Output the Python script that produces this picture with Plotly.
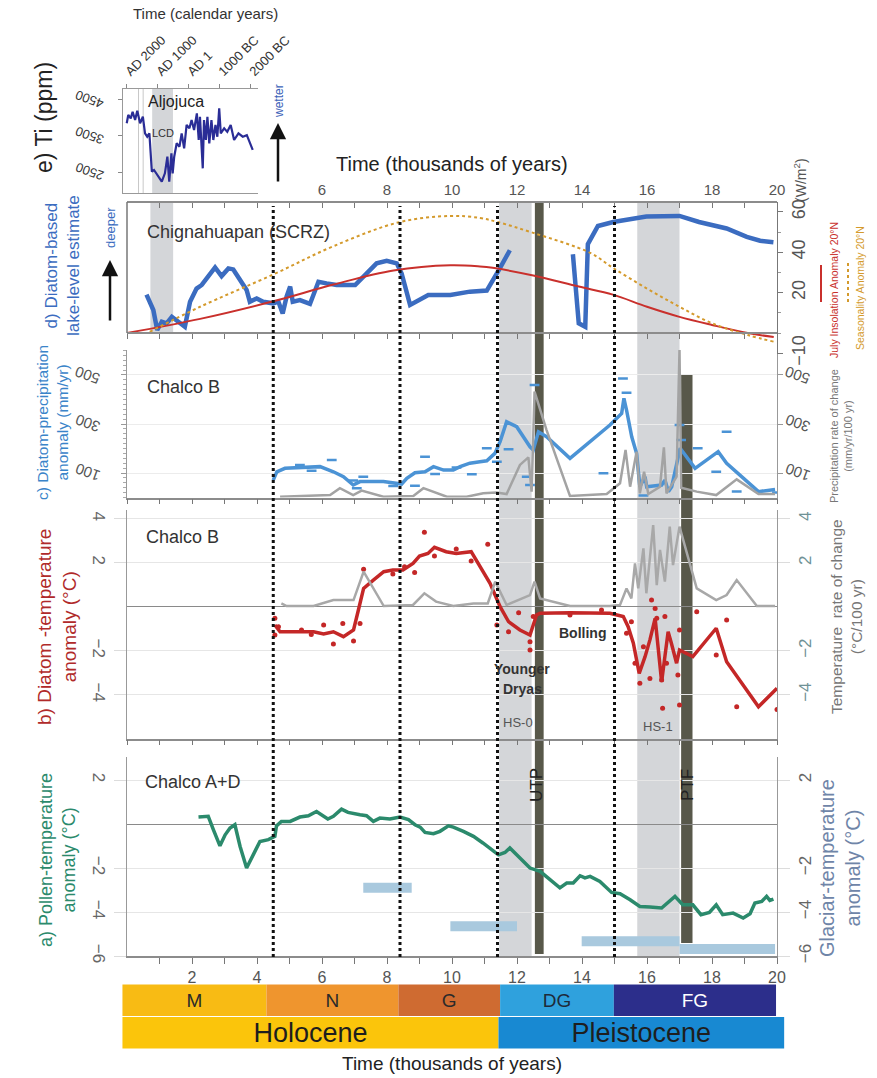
import plotly.graph_objects as go

W, H = 877, 1078
def PX(px): return px / W
def PY(py): return 1 - py / H

NARROW = "Liberation Sans Narrow, Arial Narrow, Liberation Sans, Arial, sans-serif"
SANS = "Liberation Sans, Arial, Helvetica, sans-serif"

# ---------------- DATA ----------------
# e) Aljojuca Ti (inset), age in ky BP
ti_age = [-0.03,0.02,0.10,0.16,0.24,0.31,0.40,0.49,0.56,0.63,0.70,0.78,0.85,0.99,1.10,1.20,1.28,1.34,1.41,1.45,
          1.50,1.58,1.67,1.74,1.82,1.90,1.99,2.06,2.14,2.23,2.29,2.33,2.39,2.42,2.46,2.52,2.57,2.63,2.70,2.76,
          2.83,2.89,2.95,3.00,3.11,3.21,3.32,3.43,3.57,3.71,3.84,3.95,4.03]
ti_ppm = [3834,4062,3970,4152,3925,4180,3834,4015,3560,3467,3560,2508,2555,2370,2234,2464,2920,2234,3010,2464,
          2920,3286,3194,3560,3150,3788,3697,3925,3650,4108,3377,4015,3194,2601,3925,3377,4015,3286,3925,3377,
          3788,3467,4245,3560,3697,3600,3788,3377,3560,3467,3510,3286,3104]
inset_tick_age = [-0.05, 0.95, 1.95, 2.95, 3.95]
inset_tick_text = ["AD 2000", "AD 1000", "AD 1", "1000 BC", "2000 BC"]
inset_ti_ticks = [4500, 3500, 2500]

# d) Chignahuapan lake level (plotted on W/m2-scaled axis)
lake1_age = [0.60,0.81,0.93,1.07,1.22,1.38,1.58,1.78,1.94,2.14,2.30,2.50,2.71,2.91,3.12,3.27,3.53,3.68,3.78,3.99,
             4.19,4.50,4.66,4.79,4.91,5.02,5.10,5.32,5.63,5.89,6.14,6.45,7.02,7.37,7.68,7.99,8.30,8.45,8.71,9.27,
             9.95,10.55,11.07,11.48,11.78]
lake1_val = [19,11.4,1.5,5.6,4.8,8,5.6,3.1,15.5,22,23.8,27.9,32.5,28.2,32,31.5,25.4,21.3,15.5,17.1,
             15.5,14.7,15.5,9.7,18,23,15.5,16.3,14.4,25.4,24.6,23.8,23.8,29.5,34.5,35.8,34.5,29.5,13.9,18.8,
             18.8,20.5,21,32.3,41]
lake2_age = [13.72,13.90,14.10,14.18,14.49,14.96,15.98,17.00,17.60,18.45,19.07,19.48,19.89]
lake2_val = [39,4.8,3.1,44,53,55,57.7,58,55,51.8,47.6,45.7,45]
ins_age = [0,2.25,4.5,6.35,8.2,9.95,10.86,11.25,12.5,13.9,14.95,16,17,18,19.1,19.9]
ins_val = [0,7,15.7,24,31,33.6,33,32.3,28.5,23,19,13,8,4,0,-2]
sea_age = [0.7,2.25,4.5,6.35,8.4,9.95,10.86,11.4,12.5,14.25,14.95,16,17,18,19.1,19.9]
sea_val = [0.6,13,29,43,55,58,57,55,49.6,39.7,32.3,22,13,4.8,-1,-4.3]
wm2_ticks = [60, 40, 20, -10]

# c) Chalco B precipitation anomaly (mm/yr)
pr_age = [4.50,4.61,4.86,5.32,5.94,6.35,6.66,6.96,7.17,7.89,8.30,8.45,8.61,8.86,9.17,9.43,9.74,10.04,10.25,10.55,
          10.86,11.07,11.32,11.48,11.68,11.99,12.40,12.50,12.66,12.91,13.63,14.86,15.22,15.29,15.37,15.53,15.68,15.78,15.94,15.99,
          16.19,16.45,16.55,16.66,16.76,16.96,17.02,17.48,18.19,18.45,19.02,19.43,19.94]
pr_val = [71,105,119,123,126,105,85,51,65,65,60,55,78,101,105,126,112,112,126,140,
          146,150,180,228,309,289,207,194,268,248,160,296,343,405,357,248,180,44,85,44,
          47,51,71,24,44,166,201,119,187,140,71,24,33]
prd_age = [5.32,5.68,6.30,6.96,7.27,7.07,8.19,8.86,9.17,9.48,10.14,10.61,11.07,11.38,11.74,12.54,12.30,12.40,14.66,15.26,
           15.37,15.89,17.00,17.05,17.56,18.45,18.13,18.76,20.0]
prd_val = [133,109,153,69,85,38,47,48,166,96,122,95,201,146,197,459,85,51,99,486,
           428,8,296,235,201,268,105,24,20]
prr_age = [4.71,5.73,6.25,6.55,6.96,7.22,7.89,8.81,9.12,9.84,10.45,10.96,11.37,11.68,12.09,12.35,12.45,12.54,12.91,13.63,
           14.76,15.17,15.34,15.48,15.68,15.78,15.91,16.04,16.40,16.52,16.60,16.91,17.00,17.05,17.53,18.13,18.76,19.43,19.94]
prr_val = [3,6,10,38,10,28,3,6,38,3,3,17,20,14,133,164,24,432,275,6,
           14,58,194,44,187,17,105,14,44,205,17,85,602,40,24,10,74,14,14]
precip_ticks = [100, 300, 500]

# b) Chalco B temperature anomaly (degC)
t_age = [4.55,4.71,5.02,5.74,6.05,6.35,6.66,6.97,7.12,7.28,7.58,7.90,8.18,8.49,8.80,9.00,9.26,9.46,9.82,10.13,
         10.59,10.95,11.17,11.48,11.74,12.09,12.40,12.60,12.71,13.63,14.55,14.86,15.27,15.42,15.58,15.76,15.94,16.09,16.25,16.35,
         16.45,16.55,16.65,16.75,16.91,17.00,17.41,18.13,18.45,19.43,20.0]
t_val = [-0.83,-1.14,-1.14,-1.14,-1.24,-1.14,-1.36,-1.06,-0.15,0.83,1.21,1.59,1.67,1.67,1.97,2.30,2.42,2.70,2.50,2.42,
         2.50,1.59,1.06,0.0,-0.68,-1.06,-1.29,-0.38,-0.30,-0.27,-0.30,-0.30,-0.45,-0.91,-1.66,-3.03,-2.27,-1.51,-0.53,-1.82,
         -3.41,-2.27,-1.14,-1.66,-2.57,-1.97,-2.27,-0.98,-2.50,-4.55,-3.71]
td_age = [4.55,4.55,4.66,5.37,5.67,6.05,6.35,6.64,6.97,7.17,7.28,8.18,8.54,8.85,9.15,9.46,10.13,10.59,11.10,11.38,
          11.74,12.05,12.40,12.40,12.50,13.63,14.60,15.37,15.52,15.63,15.78,15.89,16.09,16.14,16.25,16.30,16.45,16.48,16.55,16.60,
          16.95,17.00,17.00,17.53,18.13,18.45,18.76,20.0]
td_val = [-0.53,-1.29,-0.91,-1.06,-1.26,-0.83,-1.70,-0.76,-1.56,-0.76,1.70,1.49,1.82,1.55,3.38,2.30,2.62,2.08,2.84,-0.83,
          -1.14,-0.27,-1.59,-1.97,-0.45,-0.38,-0.15,-1.21,-0.68,-2.57,-3.48,-1.82,-3.26,0.30,-0.08,-0.53,-3.33,-4.62,-0.45,-2.57,
          -3.10,-1.06,-4.47,-0.23,-2.20,-0.60,-4.55,-4.67]
tr_age = [4.75,4.91,5.74,6.05,6.35,6.97,7.28,7.90,8.80,9.15,9.51,10.04,10.66,11.10,11.33,11.68,12.40,12.54,12.71,13.63,
          14.86,15.17,15.37,15.52,15.63,15.73,15.89,15.98,16.19,16.30,16.40,16.55,16.70,16.80,16.91,17.00,17.53,18.13,18.45,18.76,
          19.38,19.94]
tr_val = [0.15,0.03,0.03,0.15,0.30,0.30,1.59,0.03,0.08,0.61,0.23,0.03,0.15,0.15,1.14,0.08,0.53,1.14,0.38,0.03,
          0.03,0.08,0.83,0.38,1.97,0.83,2.65,0.61,3.71,0.98,2.58,1.14,3.64,1.89,2.88,3.64,0.83,0.30,0.53,1.21,
          0.03,0.03]
temp_ticks_b = [4, 2, -2, -4]

# a) Chalco A+D pollen temperature anomaly (degC)
p_age = [2.20,2.50,2.66,2.86,3.02,3.17,3.32,3.48,3.68,3.83,4.09,4.35,4.55,4.60,4.75,5.02,5.32,5.58,5.83,6.18,
         6.35,6.60,6.80,7.17,7.37,7.58,7.78,8.09,8.40,8.66,8.86,9.02,9.17,9.43,9.63,9.89,10.04,10.35,10.66,10.95,
         11.17,11.43,11.63,11.78,11.99,12.40,12.71,13.02,13.32,13.53,13.73,13.94,14.09,14.25,14.55,14.91,15.17,15.48,15.78,16.09,
         16.45,16.86,17.10,17.41,17.66,17.92,18.13,18.33,18.65,18.96,19.17,19.32,19.53,19.68,19.78,19.89]
p_val = [0.32,0.35,-0.26,-0.99,-0.49,-0.18,-0.03,-1.02,-2.00,-1.55,-0.79,-0.71,-0.56,-0.08,0.12,0.12,0.32,0.38,0.57,0.23,
         0.35,0.68,0.53,0.42,0.38,0.12,0.27,0.23,0.32,0.20,-0.03,-0.14,-0.38,-0.44,-0.33,-0.08,-0.14,-0.33,-0.56,-0.86,
         -1.09,-1.40,-1.29,-1.09,-1.40,-2.00,-2.15,-2.53,-2.90,-2.68,-2.68,-2.35,-2.45,-2.38,-2.61,-3.11,-3.17,-3.44,-3.75,-3.77,
         -3.82,-3.29,-3.67,-3.67,-4.12,-4.02,-3.67,-4.12,-4.05,-4.27,-4.08,-3.59,-3.52,-3.29,-3.47,-3.41]
glac_start = [7.27, 9.95, 13.99, 17.0]
glac_end = [8.76, 12.0, 17.0, 19.94]
glac_val = [-2.9, -4.65, -5.33, -5.68]
temp_ticks_a = [2, -2, -4, -6]

# events
band_start = [11.45, 15.70]
band_end = [12.45, 17.00]
lcd_band = [0.72, 1.42]
utp_bar = [12.55, 12.82]
ptf_bar = [17.05, 17.40]
boundary_ages = [4.5, 8.4, 11.4, 15.0]

# chronostratigraphy
stage_names = ["M", "N", "G", "DG", "FG"]
stage_start = [-0.14, 4.29, 8.35, 11.48, 14.98]
stage_end = [4.29, 8.35, 11.48, 14.98, 19.97]
stage_colors = ["#f8bb14", "#ef952e", "#cf6b31", "#2fa1dd", "#2c2e8b"]
stage_text_colors = ["#2a2a2a", "#2a2a2a", "#2a2a2a", "#1e2a3a", "#ffffff"]
epoch_names = ["Holocene", "Pleistocene"]
epoch_start = [-0.14, 11.43]
epoch_end = [11.43, 20.22]
epoch_colors = ["#fbc50b", "#1889d2"]

# ---------------- FIGURE ----------------
fig = go.Figure()

fig.add_trace(go.Scatter(x=ti_age, y=ti_ppm, xaxis="x5", yaxis="y5", mode="lines",
                         line=dict(color="#2a2d96", width=2.2)))

fig.add_trace(go.Scatter(x=sea_age, y=sea_val, xaxis="x6", yaxis="y4", mode="lines",
                         line=dict(color="#d49a2c", width=2, dash="dot", shape="spline")))
fig.add_trace(go.Scatter(x=ins_age, y=ins_val, xaxis="x4", yaxis="y11", mode="lines",
                         line=dict(color="#c9302c", width=2, shape="spline")))
for a_, v_ in [(lake1_age, lake1_val), (lake2_age, lake2_val)]:
    fig.add_trace(go.Scatter(x=a_, y=v_, xaxis="x4", yaxis="y4", mode="lines",
                             line=dict(color="#3b6cc0", width=4.5)))

fig.add_trace(go.Scatter(x=prr_age, y=prr_val, xaxis="x3", yaxis="y10", mode="lines",
                         line=dict(color="#a3a3a3", width=2.5)))
fig.add_trace(go.Scatter(x=pr_age, y=pr_val, xaxis="x3", yaxis="y3", mode="lines",
                         line=dict(color="#4b93d5", width=3.5)))
fig.add_trace(go.Scatter(x=prd_age, y=prd_val, xaxis="x3", yaxis="y3", mode="markers",
                         marker=dict(symbol="line-ew", size=7, line=dict(color="#4b93d5", width=2.5))))

fig.add_trace(go.Scatter(x=tr_age, y=tr_val, xaxis="x2", yaxis="y9", mode="lines",
                         line=dict(color="#a8a8a8", width=2.5)))
fig.add_trace(go.Scatter(x=t_age, y=t_val, xaxis="x2", yaxis="y2", mode="lines",
                         line=dict(color="#c42727", width=3.5)))
fig.add_trace(go.Scatter(x=td_age, y=td_val, xaxis="x2", yaxis="y2", mode="markers",
                         marker=dict(symbol="circle", size=5, color="#c42727")))

gx, gy = [], []
for s, e, v in zip(glac_start, glac_end, glac_val):
    gx += [s, e, None]
    gy += [v, v, None]
fig.add_trace(go.Scatter(x=gx, y=gy, xaxis="x", yaxis="y8", mode="lines",
                         line=dict(color="#a9c9de", width=10)))
fig.add_trace(go.Scatter(x=p_age, y=p_val, xaxis="x", yaxis="y", mode="lines",
                         line=dict(color="#2b8a6c", width=3.5)))

fig.add_trace(go.Bar(y=[1.5] * len(stage_names), x=[e - s for s, e in zip(stage_start, stage_end)],
                     base=stage_start, orientation="h", width=0.97, xaxis="x7", yaxis="y7",
                     marker=dict(color=stage_colors, line=dict(width=0)),
                     text=stage_names, textposition="inside", insidetextanchor="middle",
                     constraintext="none", cliponaxis=False,
                     insidetextfont=dict(family=SANS, size=19, color=stage_text_colors)))
fig.add_trace(go.Bar(y=[0.5] * len(epoch_names), x=[e - s for s, e in zip(epoch_start, epoch_end)],
                     base=epoch_start, orientation="h", width=0.97, xaxis="x7", yaxis="y7",
                     marker=dict(color=epoch_colors, line=dict(width=0)),
                     text=epoch_names, textposition="inside", insidetextanchor="middle",
                     constraintext="none", cliponaxis=False,
                     insidetextfont=dict(family=NARROW, size=27, color="#1e1e1e")))

# ---------------- AXES ----------------
XD = [PX(127), PX(777)]
ticks01 = list(range(0, 21))
grey_line = "#8c8c8c"

def xbase(**kw):
    d = dict(domain=XD, range=[0, 20], showgrid=False, zeroline=False, showline=True,
             linecolor=grey_line, linewidth=1.5, tickmode="array", tickvals=ticks01,
             showticklabels=False, ticks="outside", ticklen=5, tickcolor="#777", automargin=False)
    d.update(kw)
    return d

def ybase(**kw):
    d = dict(automargin=False, showgrid=False, zeroline=False, tickmode="array")
    d.update(kw)
    return d

D_RANGE = [-10.3, 64.9]

layout_axes = dict(
    xaxis=xbase(anchor="y", tickvals=list(range(1, 21)),
                ticktext=[str(v) if v % 2 == 0 else "" for v in range(1, 21)],
                showticklabels=True, ticklen=6,
                tickfont=dict(family=NARROW, size=16, color="#555")),
    xaxis2=xbase(anchor="y2"),
    xaxis3=xbase(anchor="y3"),
    xaxis4=xbase(anchor="free", position=PY(333)),
    xaxis6=xbase(anchor="free", overlaying="x4", side="top", position=PY(202),
                 ticktext=[str(v) if (v >= 6 and v % 2 == 0) else "" for v in ticks01],
                 showticklabels=True, ticks="inside", ticklen=5,
                 tickfont=dict(family=NARROW, size=15, color="#555")),
    xaxis5=dict(domain=[PX(123), PX(258)], range=[-0.15, 4.2], anchor="y5", side="top",
                tickmode="array", tickvals=inset_tick_age, ticktext=inset_tick_text, tickangle=-45,
                ticks="outside", ticklen=4, tickcolor="#888", showline=True, mirror=True,
                linecolor="#999", linewidth=1.2, showgrid=False, zeroline=False, automargin=False,
                tickfont=dict(family=SANS, size=13, color="#333")),
    xaxis7=dict(domain=[PX(122), PX(785)], range=[-0.154, 20.246], anchor="y7", visible=False,
                automargin=False),

    yaxis=ybase(domain=[PY(956), PY(757)], range=[-6, 3.05], anchor="x",
                tickvals=temp_ticks_a, tickangle=90,
                ticks="outside", ticklen=12, tickcolor="#dcdcdc",
                showgrid=True, gridcolor="#e6e6e6", zeroline=True, zerolinecolor="#8a8a8a",
                zerolinewidth=1.3, showline=True, linecolor="#999", linewidth=1.3,
                tickfont=dict(family=NARROW, size=17, color="#666")),
    yaxis8=ybase(overlaying="y", side="right", anchor="x", range=[-6, 3.05],
                 tickvals=temp_ticks_a, tickangle=-90,
                 ticks="outside", ticklen=12, tickcolor="#dcdcdc",
                 showline=True, linecolor="#999", linewidth=1.3,
                 tickfont=dict(family=NARROW, size=17, color="#666")),
    yaxis2=ybase(domain=[PY(738.7), PY(509.9)], range=[-6, 4.4], anchor="x2",
                 tickvals=temp_ticks_b, tickangle=90,
                 ticks="outside", ticklen=12, tickcolor="#dcdcdc",
                 showgrid=True, gridcolor="#e6e6e6", zeroline=True, zerolinecolor="#8a8a8a",
                 zerolinewidth=1.3, showline=True, linecolor="#999", linewidth=1.3,
                 tickfont=dict(family=NARROW, size=17, color="#666")),
    yaxis9=ybase(overlaying="y2", side="right", anchor="x2", range=[-6, 4.4],
                 tickvals=temp_ticks_b, tickangle=-90,
                 ticks="outside", ticklen=12, tickcolor="#dcdcdc",
                 showline=True, linecolor="#999", linewidth=1.3,
                 tickfont=dict(family=NARROW, size=17, color="#6f9296")),
    yaxis3=ybase(domain=[PY(497.5), PY(350)], range=[0, 602], anchor="x3",
                 tickvals=precip_ticks, showticklabels=False,
                 ticks="outside", ticklen=5, tickcolor="#999",
                 minor=dict(dtick=20, ticks="outside", ticklen=3, tickcolor="#aaa"),
                 showgrid=True, gridcolor="#ececec",
                 showline=True, linecolor="#999", linewidth=1.3),
    yaxis10=ybase(overlaying="y3", side="right", anchor="x3", range=[0, 602],
                  tickvals=precip_ticks, showticklabels=False,
                  ticks="outside", ticklen=5, tickcolor="#999",
                  showline=True, linecolor="#999", linewidth=1.3),
    yaxis4=ybase(domain=[PY(333 + 10.3 * 2.02), PY(202)], range=D_RANGE, anchor="x4", visible=False),
    yaxis11=ybase(overlaying="y4", side="right", anchor="x4", range=D_RANGE,
                  tickvals=wm2_ticks, tickangle=-90,
                  ticks="outside", ticklen=5, tickcolor="#777",
                  minor=dict(dtick=10, ticks="outside", ticklen=3, tickcolor="#999"),
                  showline=True, linecolor="#777", linewidth=1.3,
                  tickfont=dict(family=NARROW, size=18, color="#555")),
    yaxis5=ybase(domain=[PY(193), PY(89)], range=[1925, 4774], anchor="x5",
                 tickvals=inset_ti_ticks, showticklabels=False,
                 ticks="outside", ticklen=4, tickcolor="#888",
                 showline=True, linecolor="#999", linewidth=1.2),
    yaxis7=ybase(domain=[PY(1049), PY(984)], range=[0, 2], anchor="x7", visible=False),
)

# ---------------- SHAPES ----------------
shapes = []
for s, e in zip(band_start, band_end):
    shapes.append(dict(type="rect", xref="x", yref="paper", x0=s, x1=e, y0=PY(956), y1=PY(202),
                       fillcolor="#d4d6d9", line=dict(width=0), layer="below"))
shapes.append(dict(type="rect", xref="x4", yref="paper", x0=lcd_band[0], x1=lcd_band[1],
                   y0=PY(333), y1=PY(202), fillcolor="#d4d6d9", line=dict(width=0), layer="below"))
shapes.append(dict(type="rect", xref="x5", yref="y5 domain", x0=0.79, x1=1.46, y0=0, y1=1,
                   fillcolor="#d4d6d9", line=dict(width=0), layer="below"))
for xv in [0.35, 0.50]:
    shapes.append(dict(type="line", xref="x5", yref="y5 domain", x0=xv, x1=xv, y0=0, y1=1,
                       line=dict(color="#c8c8c8", width=1), layer="below"))
shapes.append(dict(type="rect", xref="x", yref="paper", x0=utp_bar[0], x1=utp_bar[1],
                   y0=PY(954), y1=PY(203), fillcolor="#58584a", line=dict(width=0), layer="below"))
shapes.append(dict(type="rect", xref="x", yref="paper", x0=ptf_bar[0], x1=ptf_bar[1],
                   y0=PY(943), y1=PY(375), fillcolor="#58584a", line=dict(width=0), layer="below"))
for b in boundary_ages:
    shapes.append(dict(type="line", xref="x", yref="paper", x0=b, x1=b, y0=PY(957), y1=PY(206),
                       line=dict(color="#111", width=3, dash="dot"), layer="above"))
shapes.append(dict(type="line", xref="paper", yref="paper", x0=PX(127), x1=PX(127),
                   y0=PY(333), y1=PY(202), line=dict(color="#777", width=1.5)))
shapes.append(dict(type="line", xref="paper", yref="paper", x0=PX(821), x1=PX(821),
                   y0=PY(302), y1=PY(265), line=dict(color="#c9302c", width=2)))
shapes.append(dict(type="line", xref="paper", yref="paper", x0=PX(848), x1=PX(848),
                   y0=PY(302), y1=PY(262), line=dict(color="#d49a2c", width=2, dash="dot")))

# ---------------- ANNOTATIONS ----------------
anns = []
def ann(text, px, py, size, color="#2b2b2b", angle=0, family=SANS, xanchor="center", bold=False):
    if bold:
        text = "<b>" + text + "</b>"
    anns.append(dict(text=text, x=PX(px), y=PY(py), xref="paper", yref="paper", showarrow=False,
                     xanchor=xanchor, yanchor="middle", textangle=angle,
                     font=dict(family=family, size=size, color=color)))

def tick_ann(vals, yref, px, size, color, angle, family=NARROW):
    for v in vals:
        anns.append(dict(text=str(v), x=PX(px), y=v, xref="paper", yref=yref, showarrow=False,
                         xanchor="center", yanchor="middle", textangle=angle,
                         font=dict(family=family, size=size, color=color)))

tick_ann(inset_ti_ticks, "y5", 90, 13, "#333", -160, family=SANS)
tick_ann(precip_ticks, "y3", 88, 15, "#555", -160)
tick_ann(precip_ticks, "y10", 798, 15, "#555", -160)

ann("Time (calendar years)", 205, 13, 15, "#333")
ann("e) Ti (ppm)", 44, 118, 23, "#222", angle=-90)
ann("Aljojuca", 176, 101, 16, "#222")
ann("LCD", 163, 133, 11, "#333")
ann("wetter", 279, 101, 12, "#3c62b8", angle=-90)
ann("Time (thousands of years)", 452, 164, 20, "#222")
ann("Chignahuapan (SCRZ)", 145, 232, 18, "#333", xanchor="left")
ann("deeper", 110, 228, 13, "#3b6cc0", angle=-90)
ann("d) Diatom-based<br>lake-level estimate", 62, 265, 17, "#3b6cc0", angle=-90)
ann("(W/m<sup>2</sup>)", 800, 180, 14, "#555", angle=-90, family=NARROW)
ann("July Insolation Anomaly 20°N", 834, 290, 10.5, "#c9302c", angle=-90, family=NARROW)
ann("Seasonality Anomaly 20°N", 860, 288, 10.5, "#d49a2c", angle=-90, family=NARROW)

ann("Chalco B", 145, 387, 18, "#333", xanchor="left")
ann("c) Diatom-precipitation<br>anomaly (mm/yr)", 52, 423, 15.5, "#3a84c9", angle=-90)
ann("Precipitation rate of change<br>(mm/yr/100 yr)", 841, 436, 11, "#777", angle=-90, family=NARROW)

ann("Chalco B", 144, 537, 18, "#333", xanchor="left")
ann("b) Diatom -temperature<br>anomaly (°C)", 57, 627, 19, "#b02a2a", angle=-90)
ann("Temperature  rate of change<br>(°C/100 yr)", 846, 617, 15.5, "#777", angle=-90, family=NARROW)
ann("Younger", 522, 669, 14, "#333", bold=True)
ann("Dryas", 522, 689, 14, "#333", bold=True)
ann("Bolling", 582, 633, 14, "#333", bold=True)
ann("HS-0", 518, 722, 13, "#555", family=NARROW)
ann("HS-1", 658, 726, 13, "#555", family=NARROW)

ann("Chalco A+D", 143, 782, 18, "#333", xanchor="left")
ann("a) Pollen-temperature<br>anomaly (°C)", 57, 860, 18, "#2b8a6c", angle=-90)
ann("Glaciar-temperature<br>anomaly (°C)", 840, 868, 20, "#6f85a8", angle=-90, family=NARROW)
ann("UTP", 536, 785, 17, "#222", angle=-90)
ann("PTF", 687, 785, 17, "#222", angle=-90)

ann("Time (thousands of years)", 452, 1063, 19, "#222")

anns.append(dict(x=PX(278), y=PY(123), xref="paper", yref="paper", ax=0, ay=60, text="",
                 showarrow=True, arrowhead=2, arrowsize=1.3, arrowwidth=2.5, arrowcolor="#111"))
anns.append(dict(x=PX(110), y=PY(260), xref="paper", yref="paper", ax=0, ay=62, text="",
                 showarrow=True, arrowhead=2, arrowsize=1.3, arrowwidth=2.5, arrowcolor="#111"))

fig.update_layout(
    template="none",
    width=W, height=H, autosize=False,
    margin=dict(l=0, r=0, t=0, b=0, pad=0),
    paper_bgcolor="white", plot_bgcolor="rgba(0,0,0,0)",
    showlegend=False, barmode="overlay",
    font=dict(family=SANS, color="#333"),
    shapes=shapes, annotations=anns,
    **layout_axes,
)

fig.write_html("out.html")
